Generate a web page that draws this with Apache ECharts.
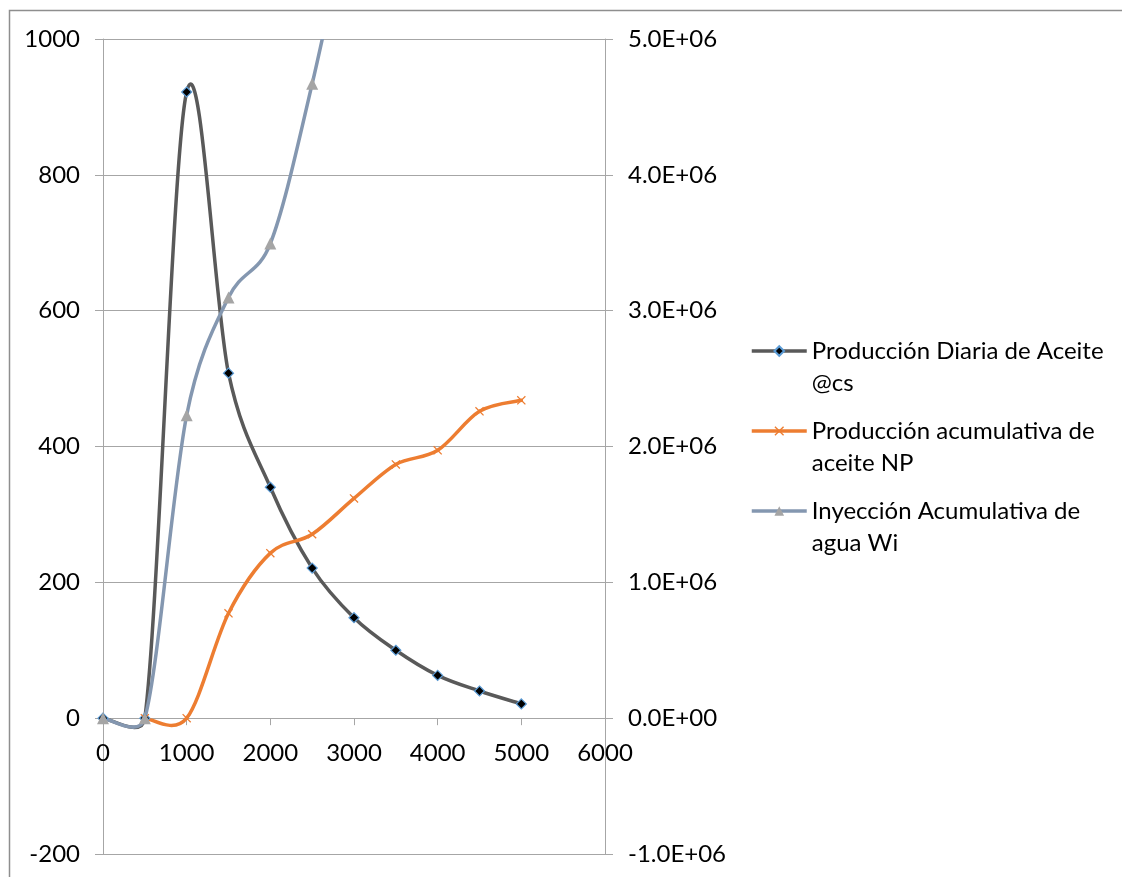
<!DOCTYPE html>
<html>
<head>
<meta charset="utf-8">
<script src="https://cdn.jsdelivr.net/npm/echarts@6/dist/echarts.min.js"></script>
<style>
html,body{margin:0;padding:0;background:#fff;}
#chart{width:1122px;height:877px;}
</style>
</head>
<body>
<div id="chart"></div>
<script>
// ---- Data ----
const xValues = [0, 500, 1000, 1500, 2000, 2500, 3000, 3500, 4000, 4500, 5000];
const dailyOil = [0, 0, 922, 508, 340, 221, 148, 100, 63, 40, 21];
const cumOil = [null, 0, 0, 772000, 1215000, 1354000, 1618000, 1868000, 1972000, 2259000, 2340000];
const cumWater = [0, 0, 2230000, 3097000, 3494000, 4670000, 6100000, null, null, null, null];
const seriesNames = [
  'Producción Diaria de Aceite @cs',
  'Producción acumulativa de aceite NP',
  'Inyección Acumulativa de agua Wi'
];
const legendLabels = [
  'Producción Diaria de Aceite\n@cs',
  'Producción acumulativa de\naceite NP',
  'Inyección Acumulativa de\nagua Wi'
];
const leftTicks = { min: -200, max: 1000, interval: 200 };
const rightTicks = { min: -1000000, max: 5000000, interval: 1000000 };
const xTicks = { min: 0, max: 6000, interval: 1000 };

function pairs(xs, ys) { return xs.map((x, i) => [x, ys[i]]); }
function sci(v) {
  const s = Number(v).toExponential(1);
  const parts = s.split('e');
  const sign = parts[1][0];
  const d = parts[1].slice(1).padStart(2, '0');
  return parts[0] + 'E' + sign + d;
}

const FONT = 'Lato';
const FS = 24;
const axisGray = '#A6A6A6';
const colors = ['#595959', '#ED7D31', '#8497B0'];
const LW = 3.5;
const xPath = 'path://M1,0 L5,4 L9,0 L10,1 L6,5 L10,9 L9,10 L5,6 L1,10 L0,9 L4,5 L0,1 Z';

// Excel-style smoothed segment (Bezier, tangent = neighbour chord / 6, capped at half segment)
function smoothRenderer(xs, ys, color) {
  return function (params, api) {
    const i = params.dataIndex;
    const n = xs.length;
    if (i >= n - 1 || ys[i] == null || ys[i + 1] == null) return null;
    const p1 = api.coord([xs[i], ys[i]]);
    const p2 = api.coord([xs[i + 1], ys[i + 1]]);
    const p0 = (i - 1 >= 0 && ys[i - 1] != null) ? api.coord([xs[i - 1], ys[i - 1]]) : p1;
    const p3 = (i + 2 < n && ys[i + 2] != null) ? api.coord([xs[i + 2], ys[i + 2]]) : p2;
    const dist = (a, b) => Math.hypot(a[0] - b[0], a[1] - b[1]);
    const d12 = dist(p1, p2), d02 = dist(p0, p2), d13 = dist(p1, p3);
    const s1 = d02 > 0 ? Math.min(1 / 6, (d12 / 2) / d02) : 0;
    const s2 = d13 > 0 ? Math.min(1 / 6, (d12 / 2) / d13) : 0;
    const cp1 = [p1[0] + (p2[0] - p0[0]) * s1, p1[1] + (p2[1] - p0[1]) * s1];
    const cp2 = [p2[0] - (p3[0] - p1[0]) * s2, p2[1] - (p3[1] - p1[1]) * s2];
    return {
      type: 'bezierCurve',
      shape: { x1: p1[0], y1: p1[1], x2: p2[0], y2: p2[1], cpx1: cp1[0], cpy1: cp1[1], cpx2: cp2[0], cpy2: cp2[1] },
      style: { stroke: color, lineWidth: LW, fill: null, lineCap: 'round' },
      silent: true
    };
  };
}

const chart = echarts.init(document.getElementById('chart'), null, { renderer: 'canvas' });
chart.setOption({
  animation: false,
  backgroundColor: '#fff',
  textStyle: { fontFamily: FONT },
  graphic: [{
    type: 'rect', left: 7, top: 8,
    shape: { x: 0, y: 0, width: 2000, height: 2000 },
    style: { fill: 'none', stroke: '#8E8E8E', lineWidth: 1.5 },
    silent: true
  }],
  grid: { left: 103, right: 517, top: 39, bottom: 23, containLabel: false, outerBoundsMode: 'none' },
  legend: {
    orient: 'vertical',
    left: 750, top: 303,
    padding: 0,
    itemWidth: 55, itemHeight: 12,
    itemGap: -16,
    data: seriesNames,
    lineStyle: { width: LW, opacity: 1 },
    formatter: function (name) { return '\n' + legendLabels[seriesNames.indexOf(name)]; },
    textStyle: { fontFamily: FONT, fontSize: FS, color: '#000', lineHeight: 32 }
  },
  xAxis: {
    type: 'value', min: xTicks.min, max: xTicks.max, interval: xTicks.interval,
    offset: -135.83,
    axisLine: { onZero: true, onZeroAxisIndex: 0, lineStyle: { color: axisGray, width: 1 } },
    axisTick: { show: true, inside: false, length: 7, lineStyle: { color: axisGray } },
    splitLine: { show: false },
    axisLabel: { fontFamily: FONT, fontSize: FS, color: '#000', margin: 23, formatter: v => String(v) }
  },
  yAxis: [{
    type: 'value', position: 'left', min: leftTicks.min, max: leftTicks.max, interval: leftTicks.interval,
    axisLine: { show: true, onZero: false, lineStyle: { color: axisGray, width: 1 } },
    axisTick: { show: true, inside: false, length: 8, lineStyle: { color: axisGray } },
    splitLine: { show: true, lineStyle: { color: axisGray, width: 1 } },
    axisLabel: { fontFamily: FONT, fontSize: FS, color: '#000', margin: 23, formatter: v => String(v) }
  }, {
    type: 'value', position: 'right', min: rightTicks.min, max: rightTicks.max, interval: rightTicks.interval,
    axisLine: { show: true, onZero: false, lineStyle: { color: axisGray, width: 1 } },
    axisTick: { show: true, inside: false, length: 8, lineStyle: { color: axisGray } },
    splitLine: { show: false },
    axisLabel: { fontFamily: FONT, fontSize: FS, color: '#000', margin: 23, formatter: sci }
  }],
  series: [
    // smoothed curves
    { type: 'custom', yAxisIndex: 0, clip: true, z: 2, data: pairs(xValues, dailyOil),
      encode: { x: 0, y: 1 }, renderItem: smoothRenderer(xValues, dailyOil, colors[0]) },
    { type: 'custom', yAxisIndex: 1, clip: true, z: 2, data: pairs(xValues, cumOil),
      encode: { x: 0, y: 1 }, renderItem: smoothRenderer(xValues, cumOil, colors[1]) },
    { type: 'custom', yAxisIndex: 1, clip: true, z: 2, data: pairs(xValues, cumWater),
      encode: { x: 0, y: 1 }, renderItem: smoothRenderer(xValues, cumWater, colors[2]) },
    // markers (and legend entries)
    { name: seriesNames[0], type: 'line', yAxisIndex: 0, clip: true,
      data: pairs(xValues, dailyOil), symbol: 'diamond', symbolSize: 10, showAllSymbol: true,
      lineStyle: { color: colors[0], width: LW, opacity: 0 },
      itemStyle: { color: '#000000', borderColor: '#5B9BD5', borderWidth: 1.2 }, z: 3 },
    { name: seriesNames[1], type: 'line', yAxisIndex: 1, clip: true,
      data: pairs(xValues, cumOil), symbol: xPath, symbolSize: 9, showAllSymbol: true,
      lineStyle: { color: colors[1], width: LW, opacity: 0 },
      itemStyle: { color: '#ED7D31' }, z: 4 },
    { name: seriesNames[2], type: 'line', yAxisIndex: 1, clip: true,
      data: pairs(xValues, cumWater), symbol: 'triangle', symbolSize: 12, showAllSymbol: true,
      lineStyle: { color: colors[2], width: LW, opacity: 0 },
      itemStyle: { color: '#A5A5A5' }, z: 5 }
  ]
});
</script>
</body>
</html>
